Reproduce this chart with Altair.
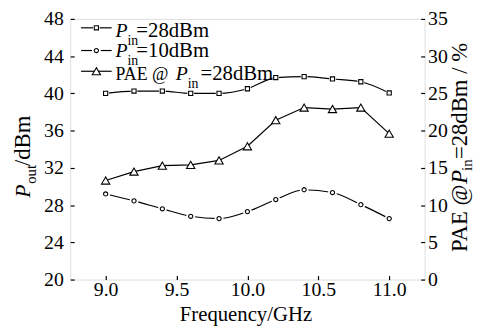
import altair as alt
import pandas as pd

# ---- data ----
freq = [9.0, 9.2, 9.4, 9.6, 9.8, 10.0, 10.2, 10.4, 10.6, 10.8, 11.0]
pout_28 = [40.0, 40.25, 40.25, 40.0, 40.0, 40.5, 41.7, 41.8, 41.55, 41.25, 40.05]
pout_10 = [29.2, 28.45, 27.6, 26.8, 26.55, 27.3, 28.6, 29.65, 29.35, 28.05, 26.55]
pae_28 = [13.3, 14.5, 15.3, 15.4, 16.0, 17.9, 21.4, 23.1, 22.9, 23.1, 19.6]

x_ticks = [9.0, 9.5, 10.0, 10.5, 11.0]
left_ticks = [20, 24, 28, 32, 36, 40, 44, 48]
right_ticks = [0, 5, 10, 15, 20, 25, 30, 35]

df = pd.DataFrame({"freq": freq, "p28": pout_28, "p10": pout_10, "pae": pae_28})
one = pd.DataFrame({"k": [0]})

FONT = "Liberation Serif, Times New Roman, serif"
W, H = 359, 264

xs = alt.Scale(domain=[8.75, 11.25], nice=False, zero=False)
ls = alt.Scale(domain=[20, 48], nice=False, zero=False)
rs = alt.Scale(domain=[0, 35], nice=False, zero=False)

common_axis = dict(grid=False, domain=False, title=None, labelFont=FONT, labelFontSize=20,
                   labelColor="black", tickColor="black", tickWidth=1.2,
                   tickSize=alt.ExprRef(expr="-4"))
x_axis = alt.Axis(values=x_ticks, format=".1f", orient="bottom", labelPadding=4, **common_axis)
left_axis = alt.Axis(values=left_ticks, orient="left", labelPadding=11, **common_axis)
right_axis = alt.Axis(values=right_ticks, orient="right", labelPadding=7, **common_axis)

X = alt.X("freq:Q", scale=xs, axis=x_axis)
base = alt.Chart(df)

def halo(field, scale, shape, size):
    return base.mark_point(shape=shape, filled=True, fill="white", stroke="white",
                           strokeWidth=0, size=size, opacity=1).encode(
        x=X, y=alt.Y(f"{field}:Q", scale=scale, axis=None))

def pts(field, scale, shape, size):
    return base.mark_point(shape=shape, filled=True, fill="white", stroke="black",
                           strokeWidth=1.1, size=size, opacity=1).encode(
        x=X, y=alt.Y(f"{field}:Q", scale=scale, axis=None))

line28 = base.mark_line(color="black", strokeWidth=1.2, interpolate="monotone").encode(
    x=X, y=alt.Y("p28:Q", scale=ls, axis=left_axis))
line10 = base.mark_line(color="black", strokeWidth=1.2, interpolate="monotone").encode(
    x=X, y=alt.Y("p10:Q", scale=ls, axis=None))
linepae = base.mark_line(color="black", strokeWidth=1.2).encode(
    x=X, y=alt.Y("pae:Q", scale=rs, axis=right_axis))

# ---- manual text helpers (legend and titles with subscripts) ----
def txt(s, x, y, size=20, italic=False, angle=0, align="left", baseline="alphabetic"):
    kw = dict(font=FONT, fontSize=size, color="black", align=align, baseline=baseline)
    if italic:
        kw["fontStyle"] = "italic"
    if angle:
        kw["angle"] = angle
    return alt.Chart(one).mark_text(**kw).encode(
        x=alt.value(x), y=alt.value(y), text=alt.value(s))

def leg_line(y):
    return alt.Chart(one).mark_rule(color="black", strokeWidth=1.2).encode(
        x=alt.value(11), x2=alt.value(42), y=alt.value(y))

def leg_halo(y, shape, size):
    return alt.Chart(one).mark_point(shape=shape, filled=True, fill="white", stroke="white",
                                     strokeWidth=0, size=size, opacity=1).encode(
        x=alt.value(26.5), y=alt.value(y))

def leg_pt(y, shape, size):
    return alt.Chart(one).mark_point(shape=shape, filled=True, fill="white", stroke="black",
                                     strokeWidth=1.1, size=size, opacity=1).encode(
        x=alt.value(26.5), y=alt.value(y))

legend = [
    leg_line(9), leg_halo(9, "square", 45), leg_pt(9, "square", 18),
    txt("P", 46, 18, italic=True), txt("in", 58, 26, size=14), txt("=28dBm", 67, 18, size=21),
    leg_line(32), leg_halo(32, "circle", 80), leg_pt(32, "circle", 18),
    txt("P", 46, 39, italic=True), txt("in", 58, 47, size=14), txt("=10dBm", 67, 39, size=21),
    leg_line(53), leg_pt(53, "triangle-up", 70),
    txt("PAE @", 46, 62, size=18), txt("P", 107, 62, italic=True), txt("in", 119, 70, size=14),
    txt("=28dBm", 132, 62, size=21),
]

titles = [
    txt("Frequency/GHz", 178, 306, size=21, align="center"),
    # left title (rotated)
    txt("P", -41, 181, size=22, italic=True, angle=270),
    txt("out", -35, 167, size=15, angle=270),
    txt("/dBm", -41, 149, size=23, angle=270),
    # right title (rotated)
    txt("PAE @ ", 402, 236, size=23, angle=270),
    txt("P", 402, 167, size=23, italic=True, angle=270),
    txt("in", 407, 154, size=15, angle=270),
    txt("=28dBm / %", 402, 142, size=23, angle=270),
]

chart = alt.layer(
    line28, halo("p28", ls, "square", 45), pts("p28", ls, "square", 18),
    line10, halo("p10", ls, "circle", 80), pts("p10", ls, "circle", 18),
    linepae, pts("pae", rs, "triangle-up", 70),
    *legend, *titles,
).resolve_scale(y="independent").properties(
    width=W, height=H,
    autosize=alt.AutoSizeParams(type="none"),
    padding={"left": 63, "top": 9, "right": 50, "bottom": 48},
).configure_view(stroke="black", strokeWidth=1.3).configure(background="white")

chart.save("out.html", embed_options={"renderer": "svg", "actions": False})
